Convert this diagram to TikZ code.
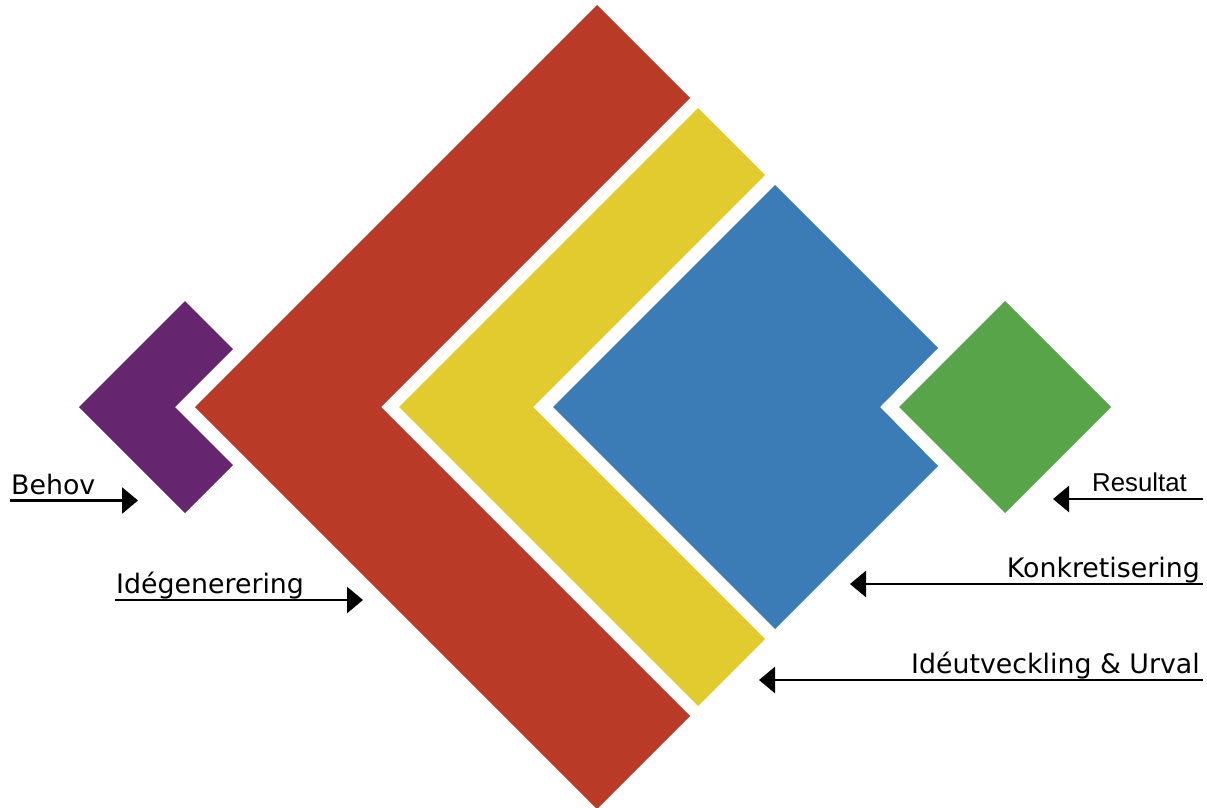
\documentclass[tikz,border=0pt]{standalone}
\usepackage{fontspec}
\setmainfont{DejaVu Sans}
\newfontfamily\arialfont{Liberation Sans}
\usetikzlibrary{arrows.meta}
\definecolor{cred}{HTML}{B83A27}
\definecolor{cyellow}{HTML}{E2CB2E}
\definecolor{cblue}{HTML}{3C7CB6}
\definecolor{cgreen}{HTML}{57A449}
\definecolor{cpurple}{HTML}{65256F}
\begin{document}
\begin{tikzpicture}[x=1pt,y=-1pt,
  lbl/.style={inner sep=0pt, font=\fontsize{26.8}{30}\selectfont},
  pointer/.style={line width=2.8pt, -{Triangle[length=16pt,width=26pt]}}]
\useasboundingbox (0,0) rectangle (1207,808);
% shapes
\fill[cpurple] (79,407) -- (185,301) -- (233,349) -- (175,407) -- (233,465) -- (185,513) -- cycle;
\fill[cred] (195,407) -- (597,5) -- (690,98) -- (381,407) -- (690,716) -- (597,809) -- cycle;
\fill[cyellow] (399,407) -- (698,108) -- (765,175) -- (533,407) -- (765,639) -- (698,706) -- cycle;
\fill[cblue] (553,407) -- (775,185) -- (938,348) -- (880,407) -- (938,466) -- (775,629) -- cycle;
\fill[cgreen] (899,407) -- (1005,301) -- (1111,407) -- (1005,513) -- cycle;
% labels
\node[lbl, anchor=base west] (behov) at (11,494) {Behov};
\node[lbl, anchor=base west] (idegen) at (116,593) {Idégenerering};
\node[lbl, anchor=base east, font=\arialfont\fontsize{25.8}{30}\selectfont] (resultat) at (1187,491) {Resultat};
\node[lbl, anchor=base east] (konkret) at (1200,577) {Konkretisering};
\node[lbl, anchor=base east] (ideutv) at (1200,673) {Idéutveckling \& Urval};
% arrow ends
\coordinate (behovS) at (10,500.5);
\coordinate (behovT) at (138,500.5);
\coordinate (idegenS) at (115,600);
\coordinate (idegenT) at (363,600);
\coordinate (resultatS) at (1203,499);
\coordinate (resultatT) at (1053,499);
\coordinate (konkretS) at (1203,584);
\coordinate (konkretT) at (850,584);
\coordinate (ideutvS) at (1203,680);
\coordinate (ideutvT) at (759,680);
\draw[pointer] (behovS) -- (behovT);
\draw[pointer] (idegenS) -- (idegenT);
\draw[pointer] (resultatS) -- (resultatT);
\draw[pointer] (konkretS) -- (konkretT);
\draw[pointer] (ideutvS) -- (ideutvT);
\end{tikzpicture}
\end{document}
